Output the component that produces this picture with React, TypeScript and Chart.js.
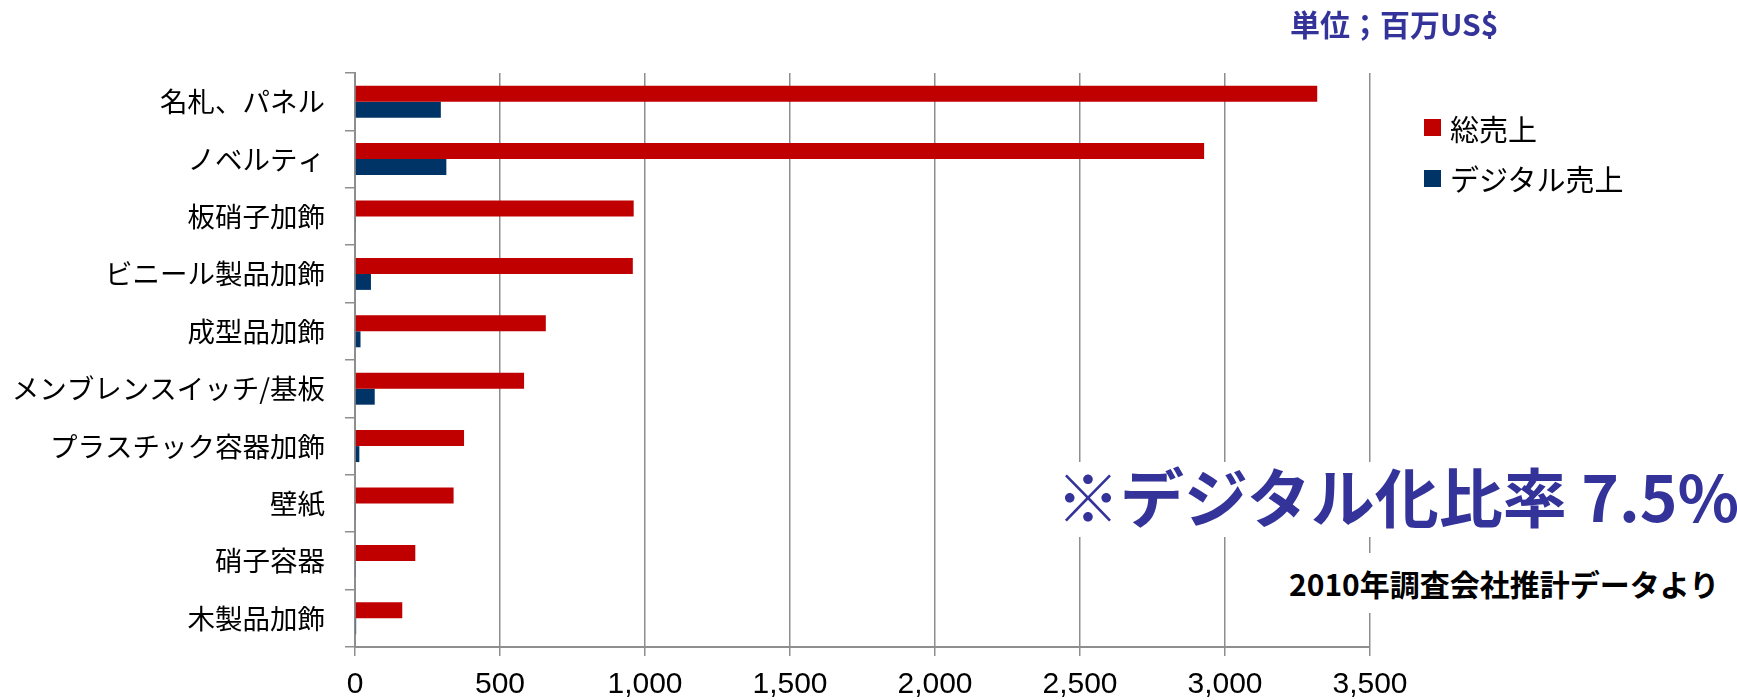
import React, { useEffect, useRef } from 'react';
import { Chart, registerables } from 'chart.js';

Chart.register(...registerables);

// ---- data ----
const categories = [
  '名札、パネル',
  'ノベルティ',
  '板硝子加飾',
  'ビニール製品加飾',
  '成型品加飾',
  'メンブレンスイッチ/基板',
  'プラスチック容器加飾',
  '壁紙',
  '硝子容器',
  '木製品加飾',
];
const totalSales = [3318, 2928, 961, 958, 658, 583, 376, 340, 208, 163];
const digitalSales = [296, 315, 3, 55, 19, 68, 15, 2, 2, 4];
const seriesNames = ['総売上', 'デジタル売上'];
const seriesColors = ['#C00000', '#003366'];
const axisMin = 0;
const axisMax = 3500;
const axisStep = 500;
const unitLabel = '単位；百万US$';
const ratioNote = '※デジタル化比率 7.5%';
const sourceNote = '2010年調査会社推計データより';

const CJK = '"Noto Sans CJK JP", "Noto Sans CJK SC", sans-serif';
const LATIN = '"Liberation Sans", Arial, sans-serif';
const GRID = '#8e8e8e';
const NAVY_TEXT = '#333399';

export default function App() {
  const ref = useRef<HTMLCanvasElement>(null);

  useEffect(() => {
    if (!ref.current) return;
    const chart = new Chart(ref.current, {
      type: 'bar',
      data: {
        labels: categories,
        datasets: [
          { label: seriesNames[0], data: totalSales, backgroundColor: seriesColors[0], borderWidth: 0 },
          { label: seriesNames[1], data: digitalSales, backgroundColor: seriesColors[1], borderWidth: 0 },
        ],
      },
      options: {
        indexAxis: 'y',
        responsive: false,
        animation: false,
        layout: { padding: { left: 0, top: 73, right: 367, bottom: 0 } },
        datasets: { bar: { barPercentage: 1, categoryPercentage: 0.557 } },
        plugins: { legend: { display: false }, tooltip: { enabled: false } },
        scales: {
          x: {
            min: axisMin,
            max: axisMax,
            ticks: {
              stepSize: axisStep,
              callback: (v: any) => Number(v).toLocaleString('en-US'),
              font: { family: LATIN, size: 30 },
              color: '#000',
              padding: 11,
            },
            grid: { color: GRID, lineWidth: 1.5, tickLength: 9 },
            border: { color: GRID, width: 2 },
            afterFit: (s: any) => {
              s.height = 53;
            },
          },
          y: {
            ticks: {
              font: { family: CJK, size: 27.5 },
              color: '#000',
              padding: 20,
            },
            grid: { drawOnChartArea: false, color: GRID, lineWidth: 1.5, tickLength: 10 },
            border: { color: GRID, width: 2 },
            afterFit: (s: any) => {
              s.width = 355;
            },
          },
        },
      },
    });
    return () => chart.destroy();
  }, []);

  return (
    <div style={{ position: 'absolute', left: 0, top: 0, width: 1737, height: 700, background: '#fff', overflow: 'hidden' }}>
      <canvas ref={ref} width={1737} height={700} style={{ display: 'block' }} />
      <div
        style={{
          position: 'absolute',
          left: 1290,
          top: 8,
          fontFamily: CJK,
          fontWeight: 700,
          fontSize: 30,
          lineHeight: '30px',
          color: NAVY_TEXT,
          whiteSpace: 'nowrap',
        }}
      >
        {unitLabel}
      </div>
      {seriesNames.map((name, i) => (
        <div
          key={name}
          style={{
            position: 'absolute',
            left: 1424,
            top: [127.5, 178][i] - 20,
            height: 40,
            display: 'flex',
            alignItems: 'center',
            fontFamily: CJK,
            fontSize: 29,
            color: '#000',
            whiteSpace: 'nowrap',
          }}
        >
          <span style={{ display: 'inline-block', width: 17, height: 17, background: seriesColors[i], marginRight: 9 }} />
          <span>{name}</span>
        </div>
      ))}
      <div
        style={{
          position: 'absolute',
          left: 1052,
          top: 462,
          height: 75,
          paddingLeft: 4,
          paddingRight: 12,
          background: '#fff',
          fontFamily: CJK,
          fontWeight: 700,
          fontSize: 64,
          lineHeight: '64px',
          color: NAVY_TEXT,
          whiteSpace: 'nowrap',
        }}
      >
        {ratioNote}
      </div>
      <div
        style={{
          position: 'absolute',
          left: 1285,
          top: 553,
          height: 60,
          paddingLeft: 4,
          paddingRight: 8,
          background: '#fff',
          display: 'flex',
          alignItems: 'center',
          fontFamily: CJK,
          fontWeight: 700,
          fontSize: 30,
          color: '#000',
          whiteSpace: 'nowrap',
        }}
      >
        {sourceNote}
      </div>
    </div>
  );
}
